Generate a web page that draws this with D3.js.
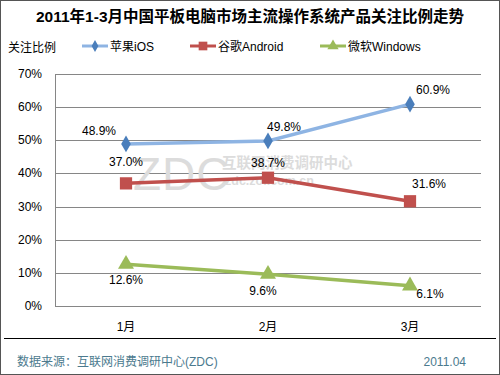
<!DOCTYPE html>
<html>
<head>
<meta charset="utf-8">
<script src="https://cdn.jsdelivr.net/npm/d3@7"></script>
<style>
  body { margin: 0; background: #fff; }
  text { font-family: "Liberation Sans", Arial, "Noto Sans CJK SC", sans-serif; }
</style>
</head>
<body>
<div id="chart"></div>
<script>
// Chart data
const months = ["1月", "2月", "3月"];
const seriesNames = ["苹果iOS", "谷歌Android", "微软Windows"];
const iosValues = [48.9, 49.8, 60.9];
const androidValues = [37.0, 38.7, 31.6];
const windowsValues = [12.6, 9.6, 6.1];
const yTicks = [0, 10, 20, 30, 40, 50, 60, 70];

const width = 500;
const height = 375;
const margin = {top: 74, right: 19, bottom: 69, left: 55};

const svg = d3.select("#chart")
    .append("svg")
    .attr("width", width)
    .attr("height", height);

// outer frame
svg.append("rect")
    .attr("x", 0.5).attr("y", 0.5)
    .attr("width", width - 1).attr("height", height - 1)
    .attr("fill", "#fff")
    .attr("stroke", "#555");

const x = d3.scaleBand()
    .domain(months)
    .range([margin.left, width - margin.right]);

const y = d3.scaleLinear()
    .domain([0, 70])
    .range([height - margin.bottom, margin.top]);

// title
svg.append("text")
    .attr("x", width / 2).attr("y", 22)
    .attr("text-anchor", "middle")
    .attr("font-size", 15.5).attr("font-weight", "bold")
    .text("2011年1-3月中国平板电脑市场主流操作系统产品关注比例走势");

svg.append("text")
    .attr("x", 8).attr("y", 52)
    .attr("font-size", 12)
    .text("关注比例");

// gridlines
svg.append("g")
    .selectAll("line")
    .data(yTicks)
    .join("line")
    .attr("x1", margin.left).attr("x2", width - margin.right)
    .attr("y1", d => Math.round(y(d)) + 0.5).attr("y2", d => Math.round(y(d)) + 0.5)
    .attr("stroke", "#868686");

svg.append("line")
    .attr("x1", margin.left + 0.5).attr("x2", margin.left + 0.5)
    .attr("y1", y(70)).attr("y2", y(0))
    .attr("stroke", "#868686");

// y axis labels
svg.append("g")
    .selectAll("text")
    .data(yTicks)
    .join("text")
    .attr("x", 42).attr("y", d => y(d) + 4)
    .attr("text-anchor", "end")
    .attr("font-size", 12)
    .text(d => d + "%");

// x axis labels
svg.append("g")
    .selectAll("text")
    .data(months)
    .join("text")
    .attr("x", d => x(d) + x.bandwidth() / 2)
    .attr("y", 331)
    .attr("text-anchor", "middle")
    .attr("font-size", 12)
    .text(d => d);

// watermark
const wm = svg.append("g").attr("fill", "#dcdcdc");
wm.append("text").attr("x", 133).attr("y", 190)
    .attr("font-size", 46).attr("font-family", "DejaVu Sans")
    .attr("font-weight", 200).attr("letter-spacing", 1).text("ZDC");
wm.append("text").attr("x", 222).attr("y", 168)
    .attr("font-size", 14.5).attr("font-weight", "bold").text("互联网消费调研中心");
wm.append("text").attr("x", 225).attr("y", 185)
    .attr("font-size", 12.5).attr("font-weight", "bold").text("zdc.zol.com.cn");

const series = [
  {name: seriesNames[0], values: iosValues, line: "#8EB4E3", marker: "#4A7EBB", shape: d3.symbolDiamond, size: 80},
  {name: seriesNames[1], values: androidValues, line: "#C0504D", marker: "#C0504D", shape: d3.symbolSquare, size: 150},
  {name: seriesNames[2], values: windowsValues, line: "#9BBB59", marker: "#9BBB59", shape: d3.symbolTriangle, size: 110}
];

// label offsets [dx, dy] per point
const labelPos = [
  [[-27, -9], [16, -10], [23, -10]],
  [[0, -17], [0, -11], [19, -13]],
  [[0, 20], [-5, 21], [20, 12]]
];

const line = d3.line()
    .x((d, i) => x(months[i]) + x.bandwidth() / 2)
    .y(d => y(d));

series.forEach((s, si) => {
  const g = svg.append("g");
  g.append("path")
      .attr("d", line(s.values))
      .attr("fill", "none")
      .attr("stroke", s.line)
      .attr("stroke-width", 3.5);
  g.selectAll("path.m")
      .data(s.values)
      .join("path")
      .attr("class", "m")
      .attr("d", d3.symbol().type(s.shape).size(s.size))
      .attr("transform", (d, i) => `translate(${x(months[i]) + x.bandwidth() / 2},${y(d)})`)
      .attr("fill", s.marker);
  g.selectAll("text")
      .data(s.values)
      .join("text")
      .attr("x", (d, i) => x(months[i]) + x.bandwidth() / 2 + labelPos[si][i][0])
      .attr("y", (d, i) => y(d) + labelPos[si][i][1])
      .attr("text-anchor", "middle")
      .attr("font-size", 12)
      .text(d => d.toFixed(1) + "%");
});

// legend
const legendX = [82, 190, 320];
const legend = svg.append("g")
    .selectAll("g")
    .data(series)
    .join("g")
    .attr("transform", (d, i) => `translate(${legendX[i]},46)`);
legend.append("line")
    .attr("x1", 0).attr("x2", 26)
    .attr("stroke", d => d.line)
    .attr("stroke-width", 3);
legend.append("path")
    .attr("d", d => d3.symbol().type(d.shape).size(d.size * 0.5)())
    .attr("transform", "translate(13,0)")
    .attr("fill", d => d.marker);
legend.append("text")
    .attr("x", 28).attr("y", 5)
    .attr("font-size", 12)
    .text(d => d.name);

// footer
svg.append("line")
    .attr("x1", 4).attr("x2", width - 4)
    .attr("y1", 338.5).attr("y2", 338.5)
    .attr("stroke", "#000");
svg.append("text")
    .attr("x", 17).attr("y", 366)
    .attr("font-size", 12).attr("fill", "#4B7A8E")
    .text("数据来源：互联网消费调研中心(ZDC)");
svg.append("text")
    .attr("x", 466).attr("y", 366)
    .attr("text-anchor", "end")
    .attr("font-size", 12).attr("fill", "#4B7A8E")
    .text("2011.04");
</script>
</body>
</html>
